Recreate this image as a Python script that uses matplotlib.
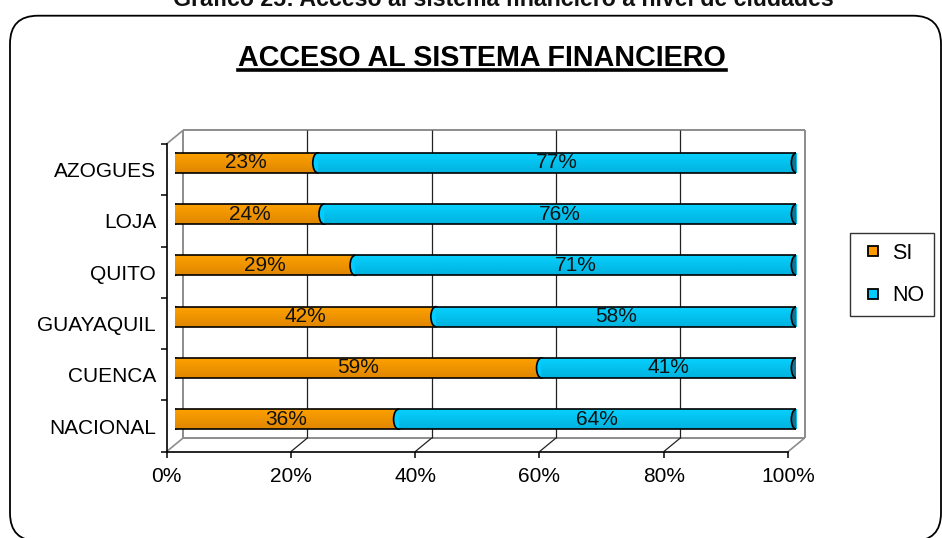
import matplotlib
matplotlib.use('Agg')
import matplotlib.pyplot as plt
import numpy as np
from matplotlib.patches import Ellipse, FancyBboxPatch
from matplotlib.lines import Line2D
from matplotlib.transforms import IdentityTransform
from matplotlib.colors import LinearSegmentedColormap

# ---------------- data ----------------
categories = ['NACIONAL', 'CUENCA', 'GUAYAQUIL', 'QUITO', 'LOJA', 'AZOGUES']
si_values = [36, 59, 42, 29, 24, 23]
no_values = [64, 41, 58, 71, 76, 77]
xtick_values = [0, 20, 40, 60, 80, 100]
xtick_labels = ['0%', '20%', '40%', '60%', '80%', '100%']
series_names = ['SI', 'NO']
chart_title = 'ACCESO AL SISTEMA FINANCIERO'
top_caption = 'Gráfico 25: Acceso al sistema financiero a nivel de ciudades'

plt.rcParams['font.family'] = ['Liberation Sans', 'DejaVu Sans']

ORANGE = '#FF9900'
BLUE = '#00CCFF'
CAP = '#16728F'
FS = 15

W, H = 942, 538
fig = plt.figure(figsize=(W / 100, H / 100), dpi=100)

# 3-D plot geometry (pixels, y from top)
PW, PH = 621.5, 307.7
FX, FY = 166.5, 144.0      # front plane top-left
DX, DY = 16.6, 13.7        # depth offset (right, up)


def axrect(x, ytop):
    return [x / W, (H - (ytop + PH)) / H, PW / W, PH / H]


ax_f = fig.add_axes(axrect(FX, FY))                     # front plane (ticks)
ax_m = fig.add_axes(axrect(FX + DX / 2, FY - DY / 2))   # middle plane (bars)
for a in (ax_f, ax_m):
    a.set_xlim(0, 100)
    a.set_ylim(-0.5, len(categories) - 0.5)
    a.patch.set_visible(False)
ax_m.set_axis_off()


def P(x, y, depth):
    """display pixel coords of data point (x,y) at depth -1 front, 0 mid, 1 back"""
    px, py = ax_m.transData.transform((x, y))
    return px + depth * DX / 2, py + depth * DY / 2


def seg(p0, p1, color, lw, z=-1):
    fig.add_artist(Line2D([p0[0], p1[0]], [p0[1], p1[1]], color=color, lw=lw,
                          transform=IdentityTransform(), zorder=z,
                          solid_capstyle='butt'))


ylo, yhi = -0.5, len(categories) - 0.5
GRAY = '#8c8c8c'
# back wall border
seg(P(0, ylo, 1), P(0, yhi, 1), GRAY, 1.4)
seg(P(0, yhi, 1), P(100, yhi, 1), GRAY, 1.4)
seg(P(100, yhi, 1), P(100, ylo, 1), GRAY, 1.4)
seg(P(0, ylo, 1), P(100, ylo, 1), GRAY, 1.4)
# left wall top edge and floor diagonals
seg(P(0, yhi, -1), P(0, yhi, 1), GRAY, 1.2)
seg(P(0, ylo, -1), P(0, ylo, 1), GRAY, 1.2)
seg(P(100, ylo, -1), P(100, ylo, 1), GRAY, 1.2)
# gridlines on back wall and floor
for xv in xtick_values[1:-1]:
    seg(P(xv, ylo, 1), P(xv, yhi, 1), '#222222', 0.9)
    seg(P(xv, ylo, -1), P(xv, ylo, 1), '#222222', 0.9)

# ---------------- bars ----------------
y = np.arange(len(categories))
bh = 0.39
cap_w = 1.6


def grad_cmap(c_top, c_bot):
    return LinearSegmentedColormap.from_list('g', [c_bot, c_top])


grad = np.linspace(0, 1, 50).reshape(-1, 1)
cm_or = grad_cmap('#FFA200', '#E08600')
cm_bl = grad_cmap('#08D2FF', '#00B2DE')

si_bars = ax_m.barh(y, si_values, height=bh, color=ORANGE, zorder=2)
no_bars = ax_m.barh(y, no_values, left=si_values, height=bh, color=BLUE, zorder=3)
for bars, cm, z in ((si_bars, cm_or, 2.1), (no_bars, cm_bl, 3.1)):
    for b in bars:
        x0, y0 = b.get_x(), b.get_y()
        im = ax_m.imshow(grad, extent=(x0, x0 + b.get_width(), y0, y0 + b.get_height()),
                         origin='lower', cmap=cm, aspect='auto', zorder=z,
                         interpolation='bilinear')
        im.set_clip_path(b)

for yi, s, n in zip(y, si_values, no_values):
    ax_m.add_patch(Ellipse((0, yi), cap_w, bh, facecolor='#F29200',
                           edgecolor='black', lw=1.2, zorder=1.5))
    ax_m.add_patch(Ellipse((s, yi), cap_w, bh, facecolor=BLUE,
                           edgecolor='black', lw=1.2, zorder=2.5))
    ax_m.add_patch(Ellipse((s + n, yi), cap_w, bh, facecolor=CAP,
                           edgecolor='black', lw=1.2, zorder=4))
    ax_m.text(s / 2, yi, f'{s}%', ha='center', va='center', fontsize=FS,
              color='#111111', zorder=6)
    ax_m.text(s + n / 2, yi, f'{n}%', ha='center', va='center', fontsize=FS,
              color='#111111', zorder=6)
totals = np.array(si_values) + np.array(no_values)
ax_m.hlines(y + bh / 2, 0, totals, color='black', lw=1.2, zorder=4.5)
ax_m.hlines(y - bh / 2, 0, totals, color='black', lw=1.2, zorder=4.5)
ax_m.set_xlim(0, 100)
ax_m.set_ylim(ylo, yhi)

# ---------------- front axes (ticks) ----------------
for side in ('top', 'right'):
    ax_f.spines[side].set_visible(False)
for side in ('left', 'bottom'):
    ax_f.spines[side].set_color('black')
    ax_f.spines[side].set_linewidth(1.2)
ax_f.set_xticks(xtick_values)
ax_f.set_xticklabels(xtick_labels, fontsize=FS)
ax_f.set_yticks(y)
ax_f.set_yticklabels(categories, fontsize=FS)
ax_f.set_yticks(np.arange(len(categories) + 1) - 0.5, minor=True)
ax_f.tick_params(axis='x', length=4.3, width=1.1, pad=6.5, color='black')
ax_f.tick_params(axis='y', which='major', length=0, pad=7.5)
ax_f.tick_params(axis='y', which='minor', length=4.3, width=1.1, color='black')
ax_f.set_zorder(5)

# ---------------- legend ----------------
handles = [Line2D([], [], linestyle='none', marker='s', markersize=7.4,
                  markerfacecolor=c, markeredgecolor='black', markeredgewidth=1.3)
           for c in (ORANGE, BLUE)]
leg = fig.legend(handles, series_names, loc='upper left',
                 bbox_to_anchor=(850 / W, 1 - 233 / H), frameon=True,
                 fancybox=False, edgecolor='black', fontsize=15.5,
                 handlelength=1.25, handletextpad=0.25,
                 labelspacing=1.0, borderpad=0.45, borderaxespad=0)
leg.get_frame().set_linewidth(1.0)

# ---------------- titles & frame ----------------
title = fig.text(482 / W, (H - 66) / H, chart_title, ha='center', va='baseline',
                 fontsize=20.7, fontweight='bold')
fig.text(503 / W, (H - 6) / H, top_caption, ha='center', va='baseline',
         fontsize=16.7, fontweight='bold', color='#111111')

fig.add_artist(FancyBboxPatch((10, -3), 931, 525.3,
                              boxstyle='round,pad=0,rounding_size=28',
                              facecolor='none', edgecolor='black', lw=1.3,
                              transform=IdentityTransform(), zorder=-2))

fig.canvas.draw()
bb = title.get_window_extent()
uy = H - 69.5
fig.add_artist(Line2D([bb.x0, bb.x1], [uy, uy], color='black', lw=2.6,
                      transform=IdentityTransform()))

fig.savefig('out.png', dpi=100)
